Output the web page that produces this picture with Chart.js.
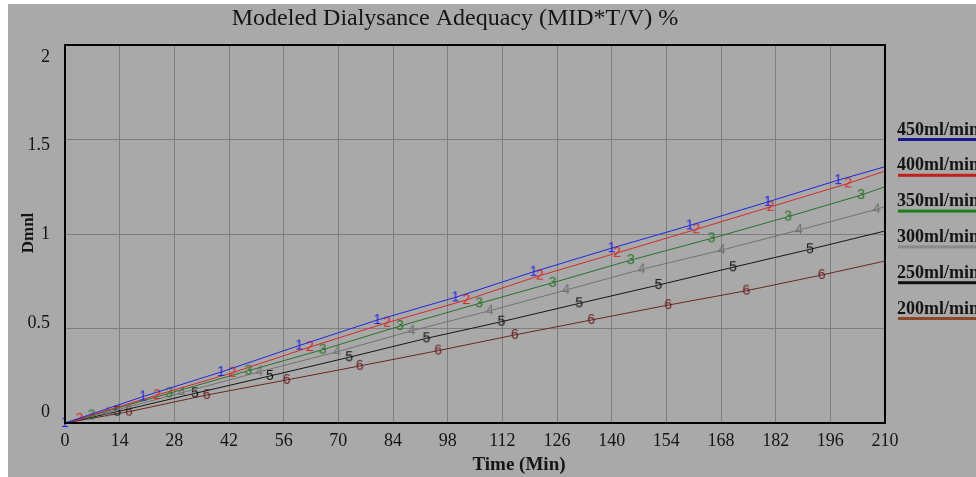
<!DOCTYPE html>
<html>
<head>
<meta charset="utf-8">
<title>Modeled Dialysance Adequacy</title>
<script src="https://cdn.jsdelivr.net/npm/chart.js@4.4.1/dist/chart.umd.min.js"></script>
<style>
  html, body { margin: 0; padding: 0; background: #ffffff; }
  #chartBox { position: absolute; left: 8px; top: 4px; width: 968px; height: 473px; }
  #adequacyChart { background: #a9a9a9; }
</style>
</head>
<body>
<div id="chartBox"><canvas id="adequacyChart" width="968" height="473"></canvas></div>
<script>
// === Chart Data ===
const seriesLabels = ["450ml/min", "400ml/min", "350ml/min", "300ml/min", "250ml/min", "200ml/min"];

// time (min) and Dmnl value, one pair per blood-flow curve
const t450 = [0, 20, 40, 60, 80, 100, 120, 140, 160, 180, 198, 210];
const v450 = [0, 0.14, 0.27, 0.41, 0.545, 0.665, 0.80, 0.925, 1.045, 1.17, 1.285, 1.356];

const t400 = [0, 3.7, 23.6, 42.9, 62.7, 82.5, 102.8, 121.6, 141.4, 161.7, 180.7, 200.6, 210];
const v400 = [0, 0.022, 0.148, 0.266, 0.402, 0.531, 0.651, 0.78, 0.90, 1.025, 1.144, 1.268, 1.333];

const t350 = [0, 6.8, 26.7, 47, 66, 85.8, 106.1, 124.9, 144.9, 165.6, 185.2, 203.9, 210];
const v350 = [0, 0.04, 0.157, 0.277, 0.388, 0.513, 0.633, 0.742, 0.862, 0.977, 1.092, 1.206, 1.25];

const t300 = [0, 10.7, 29.9, 49.8, 69.7, 88.8, 108.8, 128.4, 147.7, 168.2, 188, 207.9, 210];
const v300 = [0, 0.055, 0.16, 0.271, 0.377, 0.488, 0.594, 0.704, 0.813, 0.915, 1.021, 1.131, 1.145];

const t250 = [0, 13.4, 33.3, 52.5, 72.8, 92.6, 111.8, 131.7, 152, 171.1, 190.8, 210];
const v250 = [0, 0.06, 0.157, 0.249, 0.348, 0.448, 0.536, 0.633, 0.73, 0.824, 0.919, 1.016];

const t200 = [0, 16.4, 36.3, 56.8, 75.5, 95.6, 115.2, 134.8, 154.5, 174.5, 193.8, 210];
const v200 = [0, 0.06, 0.148, 0.228, 0.302, 0.383, 0.466, 0.545, 0.624, 0.70, 0.783, 0.857];

const xTicks = [0, 14, 28, 42, 56, 70, 84, 98, 112, 126, 140, 154, 168, 182, 196, 210];
const yTicks = [0, 0.5, 1, 1.5, 2];

const lineColors = ["#2424dc", "#d42a2a", "#2a702a", "#727272", "#151515", "#6a2626"];
const legendColors = ["#1a1a8f", "#c41e1e", "#1e7e1e", "#8a8a8a", "#111111", "#8a4a2a"];

const serif = '"Liberation Serif", "Times New Roman", serif';
const textColor = "#141414";

// === Digit markers (Vensim style "1".."6") ===
function digitMarker(digit, color) {
  const c = document.createElement("canvas");
  c.width = 12;
  c.height = 16;
  const g = c.getContext("2d");
  g.font = '14px "Liberation Sans", Arial, sans-serif';
  g.fillStyle = color;
  g.textAlign = "center";
  g.textBaseline = "middle";
  g.fillText(digit, 6, 8);
  return c;
}

function makeSet(i, times, values) {
  const marker = digitMarker(String(i + 1), lineColors[i]);
  const last = times.length - 1;
  return {
    label: seriesLabels[i],
    data: times.map((t, k) => ({ x: t, y: values[k] })),
    borderColor: lineColors[i],
    backgroundColor: lineColors[i],
    borderWidth: 1,
    tension: 0,
    clip: 8,
    pointStyle: marker,
    // marker on every reading except the end point (and the shared origin for 2..6)
    pointRadius: ctx => (ctx.dataIndex === last || (i > 0 && ctx.dataIndex === 0)) ? 0 : 3,
    pointHoverRadius: 0
  };
}

// === Extra drawing: frame, titles, right-hand legend ===
const decorPlugin = {
  id: "decor",
  afterDatasetsDraw(chart) {
    const { ctx, chartArea: a } = chart;
    ctx.save();
    ctx.strokeStyle = "#000000";
    ctx.lineWidth = 2;
    ctx.strokeRect(a.left, a.top, a.right - a.left, a.bottom - a.top);
    ctx.restore();
  },
  afterDraw(chart) {
    const ctx = chart.ctx;
    ctx.save();
    ctx.fillStyle = textColor;
    ctx.textBaseline = "middle";

    // chart title
    ctx.font = "24px " + serif;
    ctx.textAlign = "center";
    ctx.fillText("Modeled Dialysance Adequacy (MID*T/V) %", 447, 15);

    // x axis title
    ctx.font = "bold 19px " + serif;
    ctx.fillText("Time (Min)", 511, 461);

    // y axis title
    ctx.save();
    ctx.translate(21, 229);
    ctx.rotate(-Math.PI / 2);
    ctx.font = "bold 17px " + serif;
    ctx.fillText("Dmnl", 0, 0);
    ctx.restore();

    // legend with underlines
    ctx.textAlign = "left";
    ctx.font = "bold 18px " + serif;
    chart.data.datasets.forEach((ds, i) => {
      const y = 126 + i * 35.8;
      ctx.fillStyle = textColor;
      ctx.fillText(ds.label, 889, y);
      ctx.fillStyle = legendColors[i];
      ctx.fillRect(890, y + 8, 80, 3);
    });
    ctx.restore();
  }
};

// === Build Chart ===
window.addEventListener("DOMContentLoaded", () => {
  const ctx = document.getElementById("adequacyChart").getContext("2d");

  window.adequacyChart = new Chart(ctx, {
    type: "line",
    data: {
      datasets: [
        makeSet(0, t450, v450),
        makeSet(1, t400, v400),
        makeSet(2, t350, v350),
        makeSet(3, t300, v300),
        makeSet(4, t250, v250),
        makeSet(5, t200, v200)
      ]
    },
    options: {
      responsive: false,
      animation: false,
      devicePixelRatio: 1,
      layout: { padding: { top: 41, right: 91, left: 0, bottom: 0 } },
      plugins: {
        legend: { display: false },
        title: { display: false },
        tooltip: { enabled: false }
      },
      scales: {
        x: {
          type: "linear",
          min: 0,
          max: 210,
          afterBuildTicks: s => { s.ticks = xTicks.map(v => ({ value: v })); },
          afterFit: s => { s.height = 54; },
          grid: { color: "#7e7e7e", lineWidth: 1, drawTicks: false },
          border: { display: false },
          ticks: { color: textColor, padding: 7, font: { family: serif, size: 18 } }
        },
        y: {
          min: 0,
          max: 2,
          afterBuildTicks: s => { s.ticks = yTicks.map(v => ({ value: v })); },
          afterFit: s => { s.width = 0; },
          grid: { color: "#7e7e7e", lineWidth: 1, drawTicks: false },
          border: { display: false },
          ticks: { display: false }
        },
        // label-only axis: the reference spreads its y labels slightly inside the frame
        yLabels: {
          position: "left",
          min: -0.062,
          max: 2.0676,
          afterBuildTicks: s => { s.ticks = yTicks.map(v => ({ value: v })); },
          afterFit: s => { s.width = 57; },
          grid: { display: false, drawTicks: false },
          border: { display: false },
          ticks: {
            color: textColor,
            padding: 15,
            font: { family: serif, size: 18 },
            callback: v => String(v)
          }
        }
      }
    },
    plugins: [decorPlugin]
  });
});
</script>
</body>
</html>
